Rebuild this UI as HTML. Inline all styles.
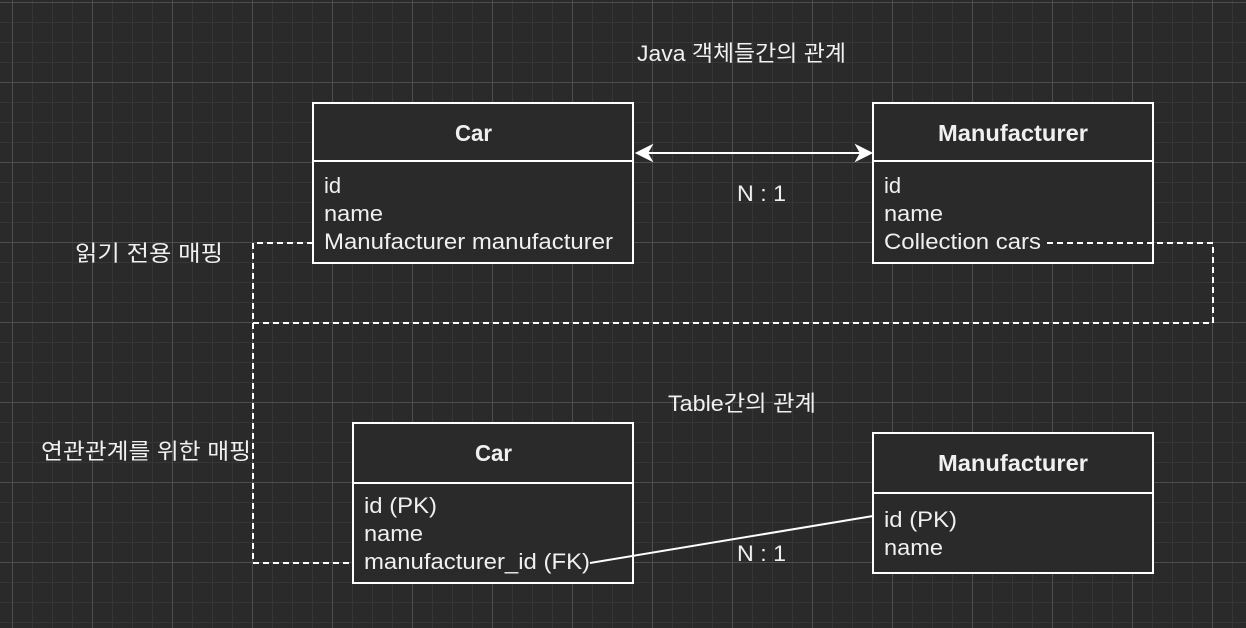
<!DOCTYPE html>
<html><head><meta charset="utf-8"><style>
html,body{margin:0;padding:0;background:#2a2a2a;}
svg{display:block}
text{font-family:"Liberation Sans","Noto Sans CJK KR",sans-serif;fill:#f0f0f0;font-size:22px}
.b{font-weight:bold;font-size:23px}
</style></head><body>
<svg width="1246" height="628" viewBox="0 0 1246 628" xmlns="http://www.w3.org/2000/svg">
<defs>
<pattern id="mi" width="20" height="20" patternUnits="userSpaceOnUse" x="12" y="2">
<path d="M0 0H20M0 0V20" stroke="#363636" stroke-width="2" fill="none"/></pattern>
<pattern id="ma" width="80" height="80" patternUnits="userSpaceOnUse" x="12" y="2">
<path d="M0 0H80M0 0V80" stroke="#555" stroke-width="1.5" fill="none"/></pattern>
</defs>
<rect width="1246" height="628" fill="#2a2a2a"/>
<rect width="1246" height="628" fill="url(#mi)"/>
<rect width="1246" height="628" fill="url(#ma)"/>

<g fill="#2a2a2a" stroke="#fff" stroke-width="2">
<rect x="313" y="103" width="320" height="160"/>
<line x1="313" y1="161" x2="633" y2="161"/>
<rect x="873" y="103" width="280" height="160"/>
<line x1="873" y1="161" x2="1153" y2="161"/>
<rect x="353" y="423" width="280" height="160"/>
<line x1="353" y1="483" x2="633" y2="483"/>
<rect x="873" y="433" width="280" height="140"/>
<line x1="873" y1="493" x2="1153" y2="493"/>
</g>

<text x="455" y="141" class="b" textLength="37" lengthAdjust="spacingAndGlyphs">Car</text>
<text x="324" y="193">id</text>
<text x="324" y="221" textLength="59" lengthAdjust="spacingAndGlyphs">name</text>
<text x="324" y="249" textLength="289" lengthAdjust="spacingAndGlyphs">Manufacturer manufacturer</text>

<text x="938" y="141" class="b" textLength="150" lengthAdjust="spacingAndGlyphs">Manufacturer</text>
<text x="884" y="193">id</text>
<text x="884" y="221" textLength="59" lengthAdjust="spacingAndGlyphs">name</text>
<text x="884" y="249" textLength="157" lengthAdjust="spacingAndGlyphs">Collection cars</text>

<text x="475" y="461" class="b" textLength="37" lengthAdjust="spacingAndGlyphs">Car</text>
<text x="364" y="513" textLength="73" lengthAdjust="spacingAndGlyphs">id (PK)</text>
<text x="364" y="541" textLength="59" lengthAdjust="spacingAndGlyphs">name</text>
<text x="364" y="569" textLength="226" lengthAdjust="spacingAndGlyphs">manufacturer_id (FK)</text>

<text x="938" y="471" class="b" textLength="150" lengthAdjust="spacingAndGlyphs">Manufacturer</text>
<text x="884" y="527" textLength="73" lengthAdjust="spacingAndGlyphs">id (PK)</text>
<text x="884" y="555" textLength="59" lengthAdjust="spacingAndGlyphs">name</text>

<text x="637" y="61" textLength="209" lengthAdjust="spacingAndGlyphs">Java 객체들간의 관계</text>
<text x="737" y="201" textLength="49" lengthAdjust="spacingAndGlyphs">N : 1</text>
<text x="668" y="411" textLength="148" lengthAdjust="spacingAndGlyphs">Table간의 관계</text>
<text x="737" y="561" textLength="49" lengthAdjust="spacingAndGlyphs">N : 1</text>
<text x="75" y="261" textLength="148" lengthAdjust="spacingAndGlyphs">읽기 전용 매핑</text>
<text x="41" y="459" textLength="210" lengthAdjust="spacingAndGlyphs">연관관계를 위한 매핑</text>

<g stroke="#fff" stroke-width="2" fill="none" stroke-dasharray="6 4">
<path d="M313 243H253V323H1213V243H1043"/>
<path d="M253 323V563H353"/>
</g>

<g stroke="#fff" stroke-width="2" fill="#fff">
<line x1="645" y1="153" x2="861" y2="153"/>
<path d="M637 153L651 146L647 153L651 160Z"/>
<path d="M871 153L857 146L861 153L857 160Z"/>
<line x1="590" y1="563" x2="873" y2="516" fill="none"/>
</g>
</svg>
</body></html>
